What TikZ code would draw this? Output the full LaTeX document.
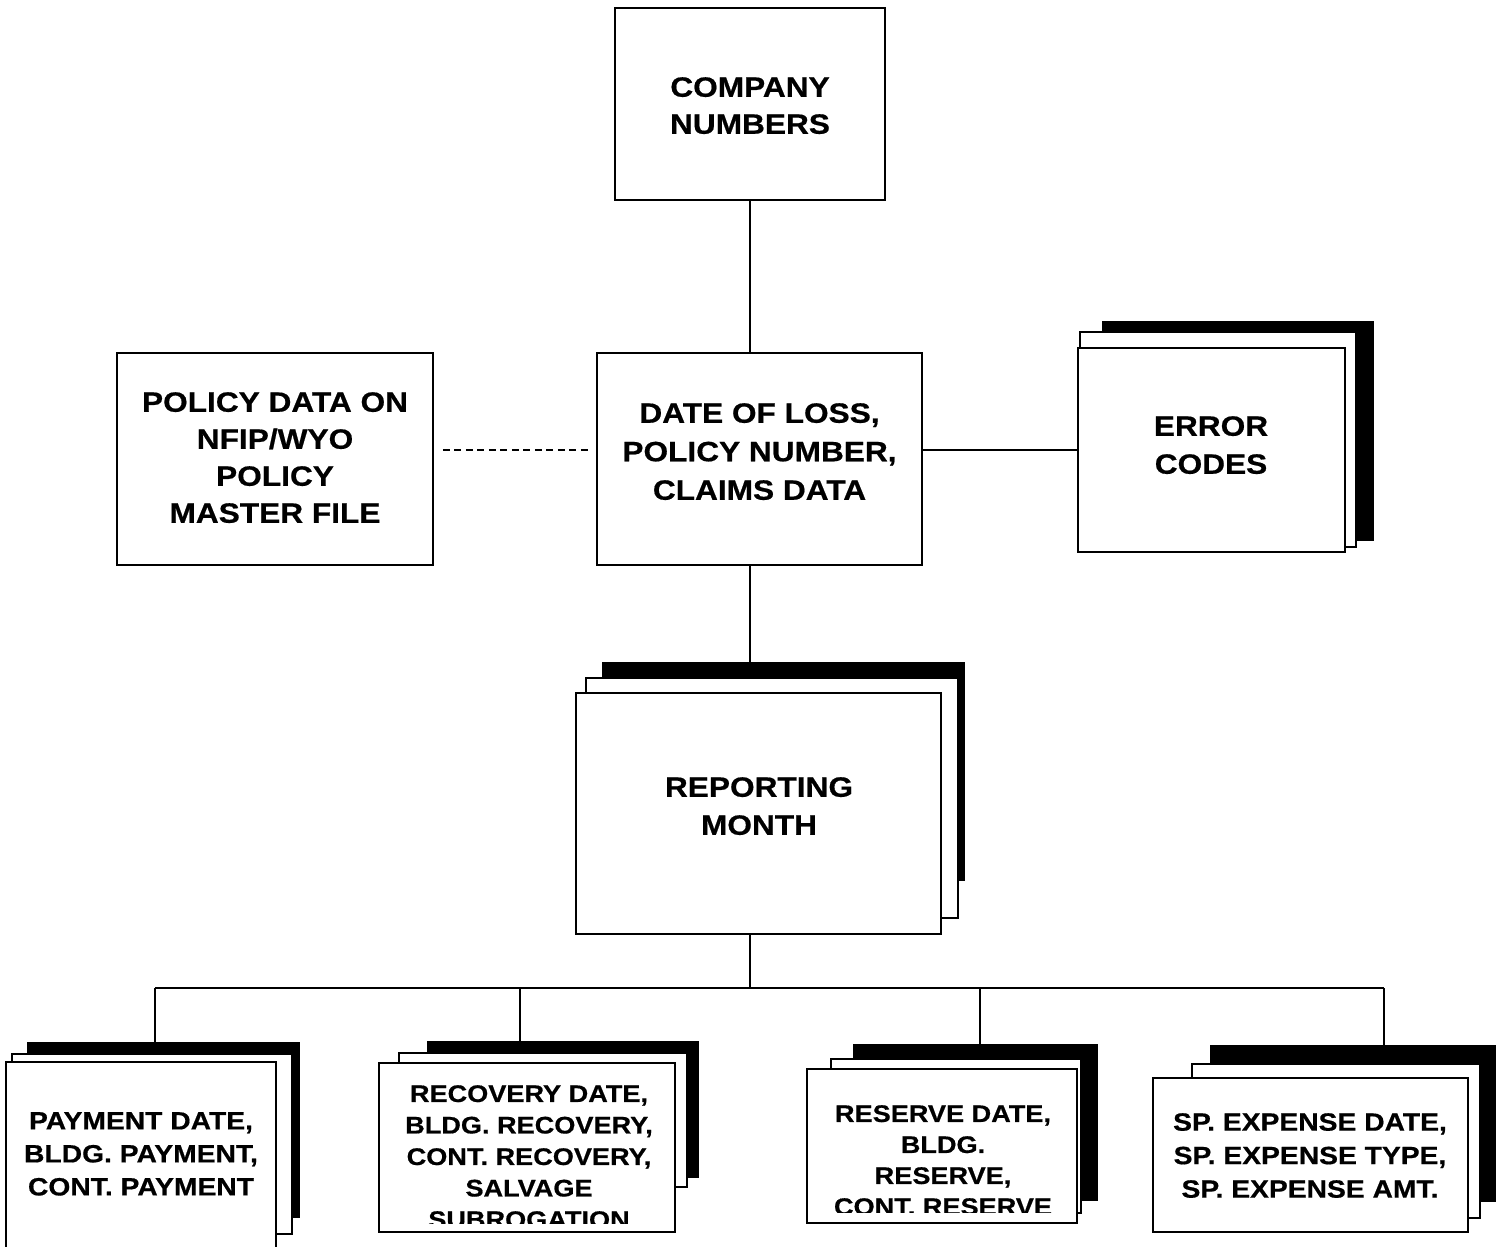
\documentclass[tikz,border=0pt]{standalone}
\usepackage{fontspec}
\setmainfont{Liberation Sans}[FakeStretch=1.13, BoldFeatures={FakeStretch=1.13, FakeBold=0.6}]
\usetikzlibrary{fit}
\begin{document}
\begin{tikzpicture}[x=1pt,y=-1pt,
  lw/.style={line width=1.7pt},
  sheet/.style={draw, lw, fill=white, inner sep=0pt},
  shadowsheet/.style={draw, lw, fill=black, inner sep=0pt},
  conn/.style={lw},
  txt/.style={align=center, inner sep=0pt, anchor=north},
  bigtxt/.style={txt, font=\bfseries\fontsize{28}{38}\selectfont},
  midtxt/.style={txt, font=\bfseries\fontsize{25}{33}\selectfont},
  smalltxt/.style={txt, font=\bfseries\fontsize{24}{31.5}\selectfont}]
\useasboundingbox (0,0) rectangle (1502,1247);
\clip (0,0) rectangle (1502,1247);

% top box
\node[sheet, fit={(615,8) (885,200)}] (cn) {};
\node[bigtxt, font=\bfseries\fontsize{28}{37}\selectfont] (cnt) at (750,77) {COMPANY\\NUMBERS};

% middle row
\node[sheet, fit={(597,353) (922,565)}] (dl) {};
\node[bigtxt, font=\bfseries\fontsize{28}{38.5}\selectfont] (dlt) at (759.5,403) {DATE OF LOSS,\\POLICY NUMBER,\\CLAIMS DATA};

\node[sheet, fit={(117,353) (433,565)}] (pd) {};
\node[bigtxt, font=\bfseries\fontsize{28}{37}\selectfont] (pdt) at (275,392) {POLICY DATA ON\\NFIP/WYO\\POLICY\\MASTER FILE};

\node[shadowsheet, fit={(1103,322) (1373,540)}] (eck) {};
\node[sheet, fit={(1080,332) (1356,547)}] (ecm) {};
\node[sheet, fit={(1078,348) (1345,552)}] (ec) {};
\node[bigtxt] (ect) at (1211,416) {ERROR\\CODES};

% reporting month
\node[shadowsheet, fit={(603,663) (964,880)}] (rmk) {};
\node[sheet, fit={(586,678) (958,918)}] (rmm) {};
\node[sheet, fit={(576,693) (941,934)}] (rm) {};
\node[bigtxt] (rmt) at (759,777) {REPORTING\\MONTH};

% bottom row
\node[shadowsheet, fit={(28,1043) (299,1217)}] (payk) {};
\node[sheet, fit={(12,1054) (292,1234)}] (paym) {};
\node[sheet, fit={(6,1062) (276,1262)}] (pay) {};
\node[midtxt] (payt) at (141,1112) {PAYMENT DATE,\\BLDG. PAYMENT,\\CONT. PAYMENT};

\node[shadowsheet, fit={(428,1042) (698,1177)}] (reck) {};
\node[sheet, fit={(399,1053) (687,1187)}] (recm) {};
\node[sheet, fit={(379,1063) (675,1232)}] (rec) {};
\begin{scope}
  \clip (380,1064) rectangle (674,1223);
  \node[smalltxt] (rect) at (529,1085) {RECOVERY DATE,\\BLDG. RECOVERY,\\CONT. RECOVERY,\\SALVAGE\\SUBROGATION};
\end{scope}

\node[shadowsheet, fit={(854,1045) (1097,1200)}] (resk) {};
\node[sheet, fit={(831,1059) (1081,1213)}] (resm) {};
\node[sheet, fit={(807,1069) (1077,1223)}] (res) {};
\begin{scope}
  \clip (808,1070) rectangle (1076,1212);
  \node[smalltxt, font=\bfseries\fontsize{24}{31}\selectfont] (rest) at (943,1105) {RESERVE DATE,\\BLDG.\\RESERVE,\\CONT. RESERVE};
\end{scope}

\node[shadowsheet, fit={(1211,1046) (1495,1201)}] (spk) {};
\node[sheet, fit={(1192,1064) (1480,1218)}] (spm) {};
\node[sheet, fit={(1153,1078) (1468,1232)}] (sp) {};
\node[midtxt, font=\bfseries\fontsize{25}{33.5}\selectfont] (spt) at (1310,1113) {SP. EXPENSE DATE,\\SP. EXPENSE TYPE,\\SP. EXPENSE AMT.};

% connectors
\coordinate (bus) at (750,988);
\coordinate (b1) at (155,988);
\coordinate (b2) at (520,988);
\coordinate (b3) at (980,988);
\coordinate (b4) at (1384,988);

\draw[conn] (cn.south) -- (cn.south |- dl.north);
\draw[conn] (cn.south |- dl.south) -- (cn.south |- rmk.north);
\draw[conn] (cn.south |- rm.south) -- (bus);
\draw[conn] (b1) -- (b4);
\draw[conn] (b1) -- (b1 |- payk.north);
\draw[conn] (b2) -- (b2 |- reck.north);
\draw[conn] (b3) -- (b3 |- resk.north);
\draw[conn] (b4) -- (b4 |- spk.north);
\draw[conn] (dl.east |- ec.west) -- (ec.west);
\draw[conn, dash pattern=on 7pt off 4.5pt, shorten <=9pt, shorten >=7pt] (pd.east |- ec.west) -- (dl.west |- ec.west);
\end{tikzpicture}
\end{document}
